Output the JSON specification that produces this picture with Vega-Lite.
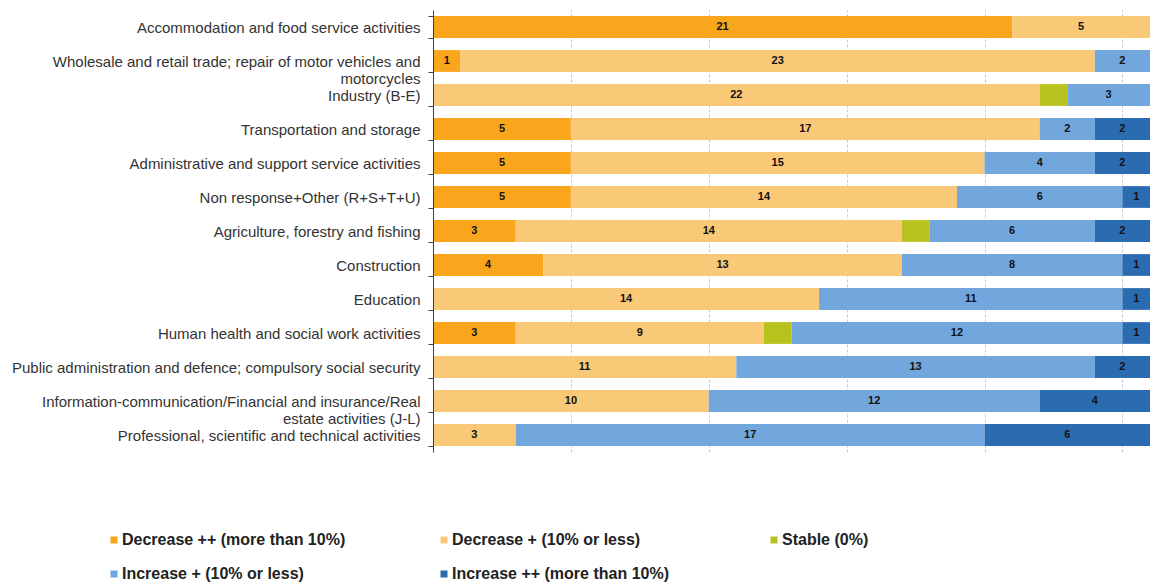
{
  "$schema": "https://vega.github.io/schema/vega-lite/v6.json",
  "width": 717,
  "height": 442,
  "autosize": "none",
  "padding": {"left": 433, "top": 10, "right": 0, "bottom": 133},
  "background": "white",
  "config": {"view": {"stroke": null}, "font": "Liberation Sans"},
  "data": {
    "values": [
      {"s": "Accommodation and food service activities", "c": "Decrease ++ (more than 10%)", "o": 1, "v": 21},
      {"s": "Accommodation and food service activities", "c": "Decrease + (10% or less)", "o": 2, "v": 5},
      {"s": "Wholesale and retail trade; repair of motor vehicles and|motorcycles", "c": "Decrease ++ (more than 10%)", "o": 1, "v": 1},
      {"s": "Wholesale and retail trade; repair of motor vehicles and|motorcycles", "c": "Decrease + (10% or less)", "o": 2, "v": 23},
      {"s": "Wholesale and retail trade; repair of motor vehicles and|motorcycles", "c": "Increase + (10% or less)", "o": 4, "v": 2},
      {"s": "Industry (B-E)", "c": "Decrease + (10% or less)", "o": 2, "v": 22},
      {"s": "Industry (B-E)", "c": "Stable (0%)", "o": 3, "v": 1},
      {"s": "Industry (B-E)", "c": "Increase + (10% or less)", "o": 4, "v": 3},
      {"s": "Transportation and storage", "c": "Decrease ++ (more than 10%)", "o": 1, "v": 5},
      {"s": "Transportation and storage", "c": "Decrease + (10% or less)", "o": 2, "v": 17},
      {"s": "Transportation and storage", "c": "Increase + (10% or less)", "o": 4, "v": 2},
      {"s": "Transportation and storage", "c": "Increase ++ (more than 10%)", "o": 5, "v": 2},
      {"s": "Administrative and support service activities", "c": "Decrease ++ (more than 10%)", "o": 1, "v": 5},
      {"s": "Administrative and support service activities", "c": "Decrease + (10% or less)", "o": 2, "v": 15},
      {"s": "Administrative and support service activities", "c": "Increase + (10% or less)", "o": 4, "v": 4},
      {"s": "Administrative and support service activities", "c": "Increase ++ (more than 10%)", "o": 5, "v": 2},
      {"s": "Non response+Other (R+S+T+U)", "c": "Decrease ++ (more than 10%)", "o": 1, "v": 5},
      {"s": "Non response+Other (R+S+T+U)", "c": "Decrease + (10% or less)", "o": 2, "v": 14},
      {"s": "Non response+Other (R+S+T+U)", "c": "Increase + (10% or less)", "o": 4, "v": 6},
      {"s": "Non response+Other (R+S+T+U)", "c": "Increase ++ (more than 10%)", "o": 5, "v": 1},
      {"s": "Agriculture, forestry and fishing", "c": "Decrease ++ (more than 10%)", "o": 1, "v": 3},
      {"s": "Agriculture, forestry and fishing", "c": "Decrease + (10% or less)", "o": 2, "v": 14},
      {"s": "Agriculture, forestry and fishing", "c": "Stable (0%)", "o": 3, "v": 1},
      {"s": "Agriculture, forestry and fishing", "c": "Increase + (10% or less)", "o": 4, "v": 6},
      {"s": "Agriculture, forestry and fishing", "c": "Increase ++ (more than 10%)", "o": 5, "v": 2},
      {"s": "Construction", "c": "Decrease ++ (more than 10%)", "o": 1, "v": 4},
      {"s": "Construction", "c": "Decrease + (10% or less)", "o": 2, "v": 13},
      {"s": "Construction", "c": "Increase + (10% or less)", "o": 4, "v": 8},
      {"s": "Construction", "c": "Increase ++ (more than 10%)", "o": 5, "v": 1},
      {"s": "Education", "c": "Decrease + (10% or less)", "o": 2, "v": 14},
      {"s": "Education", "c": "Increase + (10% or less)", "o": 4, "v": 11},
      {"s": "Education", "c": "Increase ++ (more than 10%)", "o": 5, "v": 1},
      {"s": "Human health and social work activities", "c": "Decrease ++ (more than 10%)", "o": 1, "v": 3},
      {"s": "Human health and social work activities", "c": "Decrease + (10% or less)", "o": 2, "v": 9},
      {"s": "Human health and social work activities", "c": "Stable (0%)", "o": 3, "v": 1},
      {"s": "Human health and social work activities", "c": "Increase + (10% or less)", "o": 4, "v": 12},
      {"s": "Human health and social work activities", "c": "Increase ++ (more than 10%)", "o": 5, "v": 1},
      {"s": "Public administration and defence; compulsory social security", "c": "Decrease + (10% or less)", "o": 2, "v": 11},
      {"s": "Public administration and defence; compulsory social security", "c": "Increase + (10% or less)", "o": 4, "v": 13},
      {"s": "Public administration and defence; compulsory social security", "c": "Increase ++ (more than 10%)", "o": 5, "v": 2},
      {"s": "Information-communication/Financial and insurance/Real|estate activities (J-L)", "c": "Decrease + (10% or less)", "o": 2, "v": 10},
      {"s": "Information-communication/Financial and insurance/Real|estate activities (J-L)", "c": "Increase + (10% or less)", "o": 4, "v": 12},
      {"s": "Information-communication/Financial and insurance/Real|estate activities (J-L)", "c": "Increase ++ (more than 10%)", "o": 5, "v": 4},
      {"s": "Professional, scientific and technical activities", "c": "Decrease + (10% or less)", "o": 2, "v": 3},
      {"s": "Professional, scientific and technical activities", "c": "Increase + (10% or less)", "o": 4, "v": 17},
      {"s": "Professional, scientific and technical activities", "c": "Increase ++ (more than 10%)", "o": 5, "v": 6}
    ]
  },
  "transform": [
    {"stack": "v", "groupby": ["s"], "sort": [{"field": "o", "order": "ascending"}], "as": ["v0", "v1"]}
  ],
  "encoding": {
    "y": {
      "field": "s",
      "type": "nominal",
      "sort": null,
      "scale": {"paddingInner": 0.36, "paddingOuter": 0.18},
      "axis": {
        "title": null,
        "grid": false,
        "zindex": 1,
        "domain": true,
        "domainColor": "#404040",
        "ticks": true,
        "tickBand": "extent",
        "tickSize": 5,
        "tickWidth": 1,
        "tickColor": "#404040",
        "labelFont": "Liberation Sans",
        "labelFontSize": 15,
        "labelColor": "#333333",
        "labelPadding": 8,
        "labelLimit": 0,
        "labelLineHeight": 17,
        "labelExpr": "split(datum.label, '|')"
      }
    }
  },
  "layer": [
    {
      "mark": {"type": "bar"},
      "encoding": {
        "x": {
          "field": "v0",
          "type": "quantitative",
          "scale": {"domain": [0, 26], "nice": false, "zero": true},
          "axis": {
            "title": null,
            "labels": false,
            "ticks": false,
            "domain": false,
            "grid": true,
            "values": [5, 10, 15, 20, 25],
            "gridColor": "#c8c8c8",
            "gridDash": [3, 2]
          }
        },
        "x2": {"field": "v1"},
        "color": {
          "field": "c",
          "type": "nominal",
          "scale": {
            "domain": ["Decrease ++ (more than 10%)", "Decrease + (10% or less)", "Stable (0%)", "Increase + (10% or less)", "Increase ++ (more than 10%)"],
            "range": ["#F9A61C", "#FAC978", "#B8C21F", "#72A7DE", "#2B6CB1"]
          },
          "legend": {
            "title": null,
            "orient": "none",
            "legendX": -327,
            "legendY": 522,
            "direction": "horizontal",
            "columns": 3,
            "gridAlign": "all",
            "columnPadding": 90,
            "rowPadding": 18,
            "padding": 0,
            "symbolType": "square",
            "symbolSize": 49,
            "symbolStrokeWidth": 0,
            "labelFont": "Liberation Sans",
            "labelFontSize": 16,
            "labelFontWeight": "bold",
            "labelColor": "#222222",
            "labelOffset": 0,
            "labelLimit": 0
          }
        }
      }
    },
    {
      "transform": [
        {"filter": "datum.c != 'Stable (0%)'"},
        {"fold": ["v0", "v1"], "as": ["k", "pos"]}
      ],
      "mark": {"type": "text", "fontWeight": "bold", "fontSize": 11, "color": "#111111", "baseline": "middle", "align": "center"},
      "encoding": {
        "x": {"aggregate": "mean", "field": "pos", "type": "quantitative", "axis": {"title": null, "labels": false, "ticks": false, "domain": false, "grid": true, "values": [5, 10, 15, 20, 25], "gridColor": "#c8c8c8", "gridDash": [3, 2]}},
        "text": {"field": "v", "type": "quantitative"},
        "detail": {"field": "c", "type": "nominal"}
      }
    }
  ]
}
